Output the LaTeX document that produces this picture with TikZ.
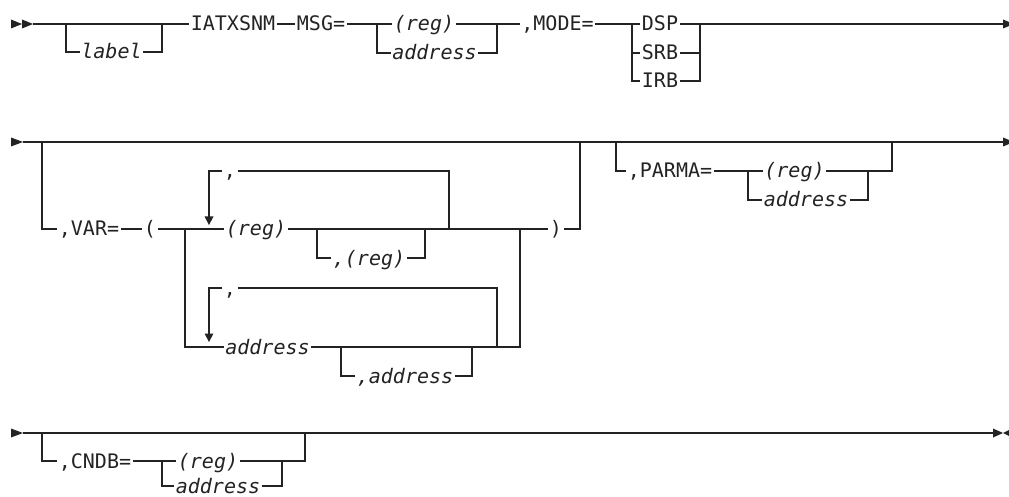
\documentclass[tikz,border=0pt]{standalone}
\usepackage{fontspec}
\newfontfamily\rrfont{DejaVu Sans Mono}
\definecolor{ink}{RGB}{35,35,35}
\begin{document}
\begin{tikzpicture}[x=1pt,y=-1pt,
  ln/.style={line width=1.2pt, draw=ink},
  txt/.style={inner xsep=1.5pt, inner ysep=0pt, text height=14pt, text depth=0pt,
    font=\fontsize{20}{24}\selectfont\rrfont, text=ink},
  itx/.style={txt, font=\fontsize{20}{24}\selectfont\rrfont\itshape},
  tri/.style={fill=ink, draw=none}]
\useasboundingbox (0,0) rectangle (1009,497);

% ---------------- Row 1 ----------------
\fill[tri] (11,19.5) -- (22,24) -- (11,28.5) -- cycle;
\fill[tri] (22,19.5) -- (33,24) -- (22,28.5) -- cycle;
\coordinate (r1s) at (33,24);
\coordinate (r1a) at (66,24);
\coordinate (r1b) at (162,24);
\coordinate (r1c) at (377,24);
\coordinate (r1d) at (497,24);
\coordinate (r1e) at (632,24);
\coordinate (r1f) at (700,24);
\coordinate (r1z) at (1003,24);

\node[itx] (lab) at (111.5,52) {label};
\node[txt] (iat) at (233,24) {IATXSNM};
\node[txt] (msg) at (321,24) {MSG=};
\node[itx] (reg1) at (424,24) {(reg)};
\node[itx] (adr1) at (434.5,53) {address};
\node[txt] (mode) at (557.5,24) {,MODE=};
\node[txt] (dsp) at (660,24) {DSP};
\node[txt] (srb) at (660,53) {SRB};
\node[txt] (irb) at (660,81) {IRB};

\draw[ln] (r1s) -- (iat.west);
\draw[ln] (r1a) |- (lab.west);
\draw[ln] (lab.east) -| (r1b);
\draw[ln] (iat.east) -- (msg.west);
\draw[ln] (msg.east) -- (reg1.west);
\draw[ln] (r1c) |- (adr1.west);
\draw[ln] (reg1.east) -- (mode.west);
\draw[ln] (adr1.east) -| (r1d);
\draw[ln] (mode.east) -- (dsp.west);
\draw[ln] (r1e) |- (srb.west);
\draw[ln] (r1e) |- (irb.west);
\draw[ln] (dsp.east) -- (r1z);
\draw[ln] (srb.east) -| (r1f);
\draw[ln] (irb.east) -| (r1f);
\fill[tri] (1003,19.5) -- (1009,22) -- (1009,26) -- (1003,28.5) -- cycle;

% ---------------- Row 2 ----------------
\fill[tri] (11,137.5) -- (23,142) -- (11,146.5) -- cycle;
\coordinate (r2s) at (23,142);
\coordinate (r2a) at (42,142);
\coordinate (r2b) at (580,142);
\coordinate (r2c) at (616,142);
\coordinate (r2d) at (892,142);
\coordinate (r2z) at (1003,142);
\coordinate (v1) at (185,229);
\coordinate (v2) at (520,229);
\coordinate (la1) at (209,217);
\coordinate (lb1) at (449,229);
\coordinate (o1) at (317,229);
\coordinate (o2) at (425,229);
\coordinate (la2) at (209,334);
\coordinate (lb2) at (497,347);
\coordinate (o3) at (341,347);
\coordinate (o4) at (472,347);
\coordinate (p1) at (748,171);
\coordinate (p2) at (868,171);

\node[txt] (var) at (89,229) {,VAR=};
\node[txt] (lp) at (150,229) {(};
\node[itx] (reg2) at (256,229) {(reg)};
\node[txt] (cm1) at (230,171) {,};
\node[itx] (creg) at (369,258) {,(reg)};
\node[txt] (rp) at (556,229) {)};
\node[itx] (adr2) at (267.5,347) {address};
\node[txt] (cm2) at (230,288) {,};
\node[itx] (cadr) at (405,376) {,address};
\node[txt] (parma) at (670,171) {,PARMA=};
\node[itx] (reg3) at (794.5,171) {(reg)};
\node[itx] (adr3) at (806,200) {address};

\draw[ln] (r2s) -- (r2z);
\fill[tri] (1003,137.5) -- (1009,140) -- (1009,144) -- (1003,146.5) -- cycle;
\draw[ln] (r2a) |- (var.west);
\draw[ln] (var.east) -- (lp.west);
\draw[ln] (lp.east) -- (reg2.west);
\draw[ln] (v1) |- (adr2.west);
\draw[ln] (reg2.east) -- (rp.west);
\draw[ln] (adr2.east) -| (v2);
\draw[ln] (rp.east) -| (r2b);
% repeat loop (reg)
\draw[ln] (cm1.west) -| (la1);
\fill[tri] (204.5,216.5) -- (213.5,216.5) -- (209,225) -- cycle;
\draw[ln] (cm1.east) -| (lb1);
\draw[ln] (o1) |- (creg.west);
\draw[ln] (creg.east) -| (o2);
% repeat loop address
\draw[ln] (cm2.west) -| (la2);
\fill[tri] (204.5,333.5) -- (213.5,333.5) -- (209,342) -- cycle;
\draw[ln] (cm2.east) -| (lb2);
\draw[ln] (o3) |- (cadr.west);
\draw[ln] (cadr.east) -| (o4);
% PARMA
\draw[ln] (r2c) |- (parma.west);
\draw[ln] (parma.east) -- (reg3.west);
\draw[ln] (p1) |- (adr3.west);
\draw[ln] (reg3.east) -| (r2d);
\draw[ln] (adr3.east) -| (p2);

% ---------------- Row 3 ----------------
\fill[tri] (11,428.5) -- (23,433) -- (11,437.5) -- cycle;
\coordinate (r3s) at (23,433);
\coordinate (r3a) at (42,433);
\coordinate (r3b) at (305,433);
\coordinate (r3z) at (993,433);
\coordinate (c1) at (162,461);
\coordinate (c2) at (282,461);

\node[txt] (cndb) at (95,461) {,CNDB=};
\node[itx] (reg4) at (208,461) {(reg)};
\node[itx] (adr4) at (218,486) {address};

\draw[ln] (r3s) -- (r3z);
\fill[tri] (993,428.5) -- (1003,433) -- (993,437.5) -- cycle;
\fill[tri] (1003,433) -- (1009,430) -- (1009,436) -- cycle;
\draw[ln] (r3a) |- (cndb.west);
\draw[ln] (cndb.east) -- (reg4.west);
\draw[ln] (c1) |- (adr4.west);
\draw[ln] (reg4.east) -| (r3b);
\draw[ln] (adr4.east) -| (c2);
\end{tikzpicture}
\end{document}
